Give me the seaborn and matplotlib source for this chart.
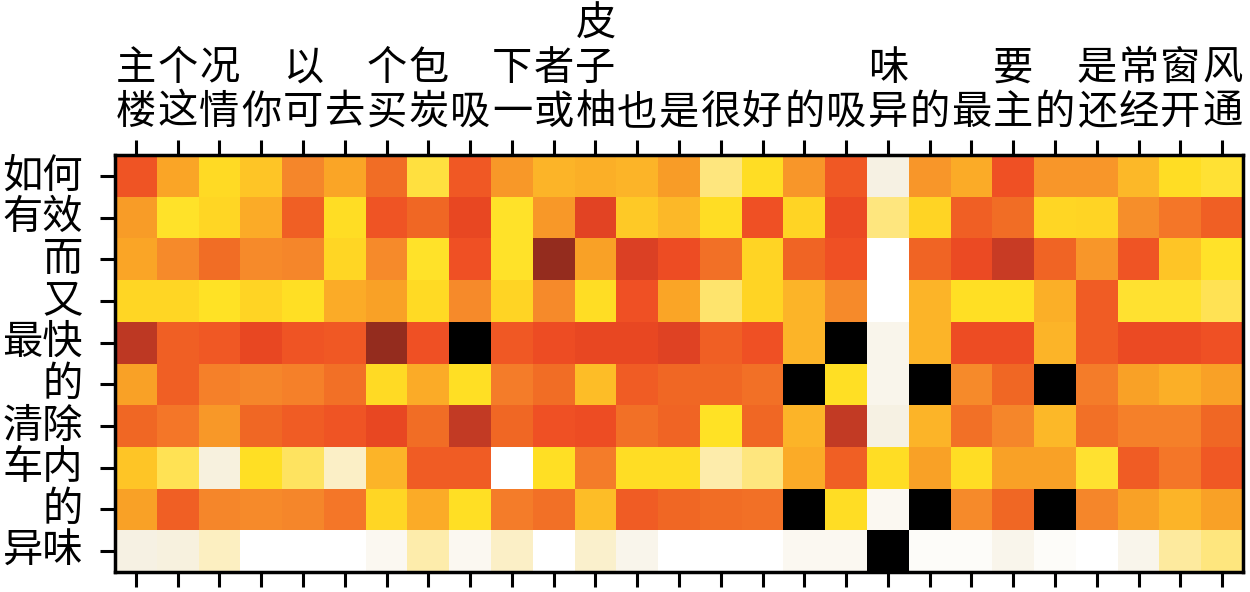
import numpy as np
import pandas as pd
import matplotlib
matplotlib.use("Agg")
import matplotlib.pyplot as plt
import seaborn as sns
from matplotlib.colors import LinearSegmentedColormap

col_words = ["楼主", "这个", "情况", "你", "可以", "去", "买个", "炭包", "吸", "一下",
             "或者", "柚子皮", "也", "是", "很", "好", "的", "吸", "异味", "的",
             "最", "主要", "的", "还是", "经常", "开窗", "通风"]
row_words = ["如何", "有效", "而", "又", "最快", "的", "清除", "车内", "的", "异味"]

row_ruhe   = [0.66, 0.47, 0.33, 0.40, 0.55, 0.47, 0.60, 0.25, 0.65, 0.50, 0.44, 0.45, 0.44, 0.49, 0.16, 0.32, 0.51, 0.65, 0.04, 0.51, 0.46, 0.67, 0.51, 0.51, 0.43, 0.32, 0.27]
row_youxiao= [0.49, 0.29, 0.34, 0.46, 0.63, 0.32, 0.66, 0.61, 0.70, 0.29, 0.50, 0.72, 0.39, 0.43, 0.32, 0.67, 0.35, 0.69, 0.16, 0.35, 0.63, 0.60, 0.34, 0.35, 0.53, 0.58, 0.63]
row_er     = [0.47, 0.54, 0.60, 0.54, 0.55, 0.34, 0.54, 0.29, 0.67, 0.29, 0.87, 0.48, 0.74, 0.68, 0.59, 0.35, 0.62, 0.67, 0.00, 0.62, 0.69, 0.78, 0.62, 0.51, 0.66, 0.40, 0.29]
row_you    = [0.34, 0.34, 0.30, 0.35, 0.31, 0.46, 0.48, 0.33, 0.54, 0.35, 0.54, 0.32, 0.67, 0.47, 0.18, 0.35, 0.44, 0.54, 0.00, 0.44, 0.31, 0.31, 0.45, 0.64, 0.28, 0.28, 0.22]
row_zuikuai= [0.80, 0.63, 0.65, 0.70, 0.66, 0.65, 0.87, 0.67, 1.00, 0.65, 0.68, 0.70, 0.70, 0.73, 0.63, 0.67, 0.44, 1.00, 0.03, 0.44, 0.68, 0.68, 0.44, 0.64, 0.69, 0.69, 0.67]
row_de1    = [0.48, 0.63, 0.56, 0.55, 0.56, 0.59, 0.33, 0.46, 0.31, 0.57, 0.60, 0.42, 0.64, 0.61, 0.61, 0.59, 1.00, 0.31, 0.03, 1.00, 0.54, 0.61, 1.00, 0.57, 0.48, 0.45, 0.48]
row_qingchu= [0.61, 0.58, 0.50, 0.61, 0.64, 0.66, 0.70, 0.60, 0.79, 0.61, 0.67, 0.68, 0.59, 0.62, 0.30, 0.61, 0.44, 0.79, 0.04, 0.44, 0.59, 0.55, 0.43, 0.59, 0.56, 0.56, 0.61]
row_chenei = [0.40, 0.22, 0.05, 0.31, 0.20, 0.09, 0.44, 0.64, 0.64, 0.00, 0.31, 0.57, 0.32, 0.32, 0.12, 0.16, 0.46, 0.63, 0.32, 0.48, 0.32, 0.48, 0.48, 0.28, 0.64, 0.58, 0.65]
row_de2    = [0.48, 0.63, 0.55, 0.54, 0.55, 0.58, 0.34, 0.46, 0.31, 0.57, 0.59, 0.42, 0.64, 0.61, 0.60, 0.59, 1.00, 0.32, 0.02, 1.00, 0.54, 0.61, 1.00, 0.55, 0.48, 0.44, 0.48]
row_yiwei  = [0.04, 0.05, 0.10, 0.00, 0.00, 0.00, 0.02, 0.12, 0.02, 0.09, 0.00, 0.08, 0.03, 0.00, 0.00, 0.00, 0.02, 0.02, 1.00, 0.01, 0.01, 0.03, 0.01, 0.00, 0.03, 0.13, 0.16]

values = np.array([row_ruhe, row_youxiao, row_er, row_you, row_zuikuai,
                   row_de1, row_qingchu, row_chenei, row_de2, row_yiwei])

col_labels = ["\n".join(reversed(list(w))) for w in col_words]
row_labels = ["".join(w) for w in row_words]
df = pd.DataFrame(values, index=range(len(row_words)), columns=range(len(col_words)))

anchors = [
    (0.00, "#ffffff"), (0.04, "#f6f1e2"), (0.10, "#fcefc0"), (0.16, "#fee57a"),
    (0.25, "#ffe040"), (0.30, "#ffe224"), (0.35, "#ffd424"), (0.40, "#fec526"),
    (0.44, "#fcb428"), (0.48, "#f9a026"), (0.52, "#f7922a"), (0.55, "#f5862a"),
    (0.58, "#f47628"), (0.61, "#f06824"), (0.64, "#f05c24"), (0.67, "#ef5024"),
    (0.70, "#e94722"), (0.74, "#dc4024"), (0.79, "#c33a24"), (0.87, "#952c1e"),
    (0.93, "#4a150f"), (1.00, "#000000"),
]
cmap = LinearSegmentedColormap.from_list("attn", anchors)

plt.rcParams['font.family'] = ['Noto Sans CJK SC', 'DejaVu Sans']

fig = plt.figure(figsize=(12.5, 5.92), dpi=100)
ax = fig.add_axes([115/1250, 1-572/592, 1128/1250, 417/592])
sns.heatmap(df, ax=ax, cmap=cmap, vmin=0, vmax=1, cbar=False,
            xticklabels=col_labels, yticklabels=row_labels, square=False)

for s in ax.spines.values():
    s.set_visible(True)
    s.set_linewidth(2.5)
    s.set_color("black")

ax.tick_params(axis='x', top=True, bottom=True, labeltop=True, labelbottom=False,
               length=11, width=2.2, labelsize=29, pad=5, rotation=0)
ax.tick_params(axis='y', left=True, length=11, width=2.2, labelsize=29, pad=12, rotation=0)
for t in ax.get_xticklabels():
    t.set_linespacing(1.1)
    t.set_va('bottom')
    t.set_ha('center')

fig.savefig("out.png", dpi=100)
